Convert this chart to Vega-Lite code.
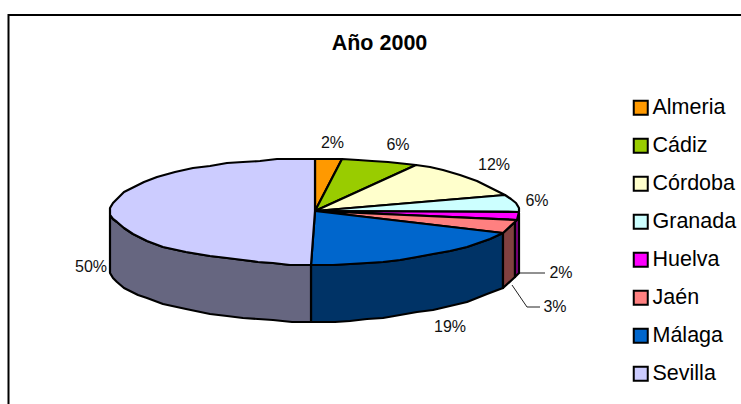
{
"$schema":"https://vega.github.io/schema/vega-lite/v6.json",
"width":741,"height":404,"autosize":"none","padding":0,"background":"white",
"title":{"text":"Año 2000","font":"Liberation Sans","fontSize":21.5,"fontWeight":"bold","color":"black","anchor":"middle","dx":9,"offset":-71,"baseline":"alphabetic"},
"config":{"view":{"stroke":null}},
"datasets":{
"top":[
{"p":"Almeria","i":0,"x":315,"y":211},{"p":"Almeria","i":1,"x":315,"y":159},{"p":"Almeria","i":2,"x":342,"y":159},{"p":"Almeria","i":3,"x":315,"y":211},
{"p":"Cádiz","i":0,"x":315,"y":211},{"p":"Cádiz","i":1,"x":342,"y":159},{"p":"Cádiz","i":2,"x":358,"y":160},{"p":"Cádiz","i":3,"x":372,"y":161},{"p":"Cádiz","i":4,"x":388,"y":162},{"p":"Cádiz","i":5,"x":416,"y":165},{"p":"Cádiz","i":6,"x":315,"y":211},
{"p":"Córdoba","i":0,"x":315,"y":211},{"p":"Córdoba","i":1,"x":416,"y":165},{"p":"Córdoba","i":2,"x":430,"y":167},{"p":"Córdoba","i":3,"x":443,"y":170},{"p":"Córdoba","i":4,"x":460,"y":175},{"p":"Córdoba","i":5,"x":477,"y":181},{"p":"Córdoba","i":6,"x":493,"y":189},{"p":"Córdoba","i":7,"x":505,"y":195},{"p":"Córdoba","i":8,"x":315,"y":211},
{"p":"Granada","i":0,"x":315,"y":211},{"p":"Granada","i":1,"x":505,"y":195},{"p":"Granada","i":2,"x":511,"y":199},{"p":"Granada","i":3,"x":516,"y":203},{"p":"Granada","i":4,"x":519,"y":208},{"p":"Granada","i":5,"x":519,"y":212},{"p":"Granada","i":6,"x":315,"y":211},
{"p":"Huelva","i":0,"x":315,"y":211},{"p":"Huelva","i":1,"x":519,"y":212},{"p":"Huelva","i":2,"x":517,"y":220},{"p":"Huelva","i":3,"x":315,"y":211},
{"p":"Jaén","i":0,"x":315,"y":211},{"p":"Jaén","i":1,"x":517,"y":220},{"p":"Jaén","i":2,"x":503,"y":233},{"p":"Jaén","i":3,"x":315,"y":211},
{"p":"Málaga","i":0,"x":315,"y":211},{"p":"Málaga","i":1,"x":503,"y":233},{"p":"Málaga","i":2,"x":490,"y":239},{"p":"Málaga","i":3,"x":467,"y":247},{"p":"Málaga","i":4,"x":450,"y":251},{"p":"Málaga","i":5,"x":433,"y":254},{"p":"Málaga","i":6,"x":417,"y":257},{"p":"Málaga","i":7,"x":400,"y":260},{"p":"Málaga","i":8,"x":383,"y":262},{"p":"Málaga","i":9,"x":367,"y":263},{"p":"Málaga","i":10,"x":350,"y":264},{"p":"Málaga","i":11,"x":333,"y":265},{"p":"Málaga","i":12,"x":311,"y":265},{"p":"Málaga","i":13,"x":315,"y":211},
{"p":"Sevilla","i":0,"x":315,"y":211},{"p":"Sevilla","i":1,"x":311,"y":265},{"p":"Sevilla","i":2,"x":290,"y":265},{"p":"Sevilla","i":3,"x":273,"y":263},{"p":"Sevilla","i":4,"x":258,"y":262},{"p":"Sevilla","i":5,"x":243,"y":260},{"p":"Sevilla","i":6,"x":227,"y":258},{"p":"Sevilla","i":7,"x":210,"y":256},{"p":"Sevilla","i":8,"x":186,"y":252},{"p":"Sevilla","i":9,"x":163,"y":247},{"p":"Sevilla","i":10,"x":147,"y":241},{"p":"Sevilla","i":11,"x":133,"y":234},{"p":"Sevilla","i":12,"x":124,"y":228},{"p":"Sevilla","i":13,"x":117,"y":222},{"p":"Sevilla","i":14,"x":113,"y":219},{"p":"Sevilla","i":15,"x":110,"y":215},{"p":"Sevilla","i":16,"x":110,"y":208},{"p":"Sevilla","i":17,"x":113,"y":203},{"p":"Sevilla","i":18,"x":117,"y":199},{"p":"Sevilla","i":19,"x":124,"y":192},{"p":"Sevilla","i":20,"x":132,"y":188},{"p":"Sevilla","i":21,"x":144,"y":182},{"p":"Sevilla","i":22,"x":157,"y":177},{"p":"Sevilla","i":23,"x":175,"y":172},{"p":"Sevilla","i":24,"x":193,"y":168},{"p":"Sevilla","i":25,"x":210,"y":166},{"p":"Sevilla","i":26,"x":227,"y":163},{"p":"Sevilla","i":27,"x":243,"y":162},{"p":"Sevilla","i":28,"x":260,"y":161},{"p":"Sevilla","i":29,"x":277,"y":159},{"p":"Sevilla","i":30,"x":315,"y":159},{"p":"Sevilla","i":31,"x":315,"y":211}
],
"wall":[
{"p":"Málaga","i":0,"x":503,"y":233},{"p":"Málaga","i":1,"x":490,"y":239},{"p":"Málaga","i":2,"x":467,"y":247},{"p":"Málaga","i":3,"x":450,"y":251},{"p":"Málaga","i":4,"x":433,"y":254},{"p":"Málaga","i":5,"x":417,"y":257},{"p":"Málaga","i":6,"x":400,"y":260},{"p":"Málaga","i":7,"x":383,"y":262},{"p":"Málaga","i":8,"x":367,"y":263},{"p":"Málaga","i":9,"x":350,"y":264},{"p":"Málaga","i":10,"x":333,"y":265},{"p":"Málaga","i":11,"x":311,"y":265},{"p":"Málaga","i":12,"x":311,"y":322},{"p":"Málaga","i":13,"x":335,"y":322},{"p":"Málaga","i":14,"x":350,"y":321},{"p":"Málaga","i":15,"x":367,"y":319},{"p":"Málaga","i":16,"x":383,"y":318},{"p":"Málaga","i":17,"x":400,"y":315},{"p":"Málaga","i":18,"x":417,"y":312},{"p":"Málaga","i":19,"x":433,"y":310},{"p":"Málaga","i":20,"x":450,"y":306},{"p":"Málaga","i":21,"x":467,"y":302},{"p":"Málaga","i":22,"x":487,"y":294},{"p":"Málaga","i":23,"x":503,"y":288},{"p":"Málaga","i":24,"x":503,"y":233},
{"p":"Sevilla","i":0,"x":311,"y":265},{"p":"Sevilla","i":1,"x":290,"y":265},{"p":"Sevilla","i":2,"x":273,"y":263},{"p":"Sevilla","i":3,"x":258,"y":262},{"p":"Sevilla","i":4,"x":243,"y":260},{"p":"Sevilla","i":5,"x":227,"y":258},{"p":"Sevilla","i":6,"x":210,"y":256},{"p":"Sevilla","i":7,"x":186,"y":252},{"p":"Sevilla","i":8,"x":163,"y":247},{"p":"Sevilla","i":9,"x":147,"y":241},{"p":"Sevilla","i":10,"x":133,"y":234},{"p":"Sevilla","i":11,"x":124,"y":228},{"p":"Sevilla","i":12,"x":117,"y":222},{"p":"Sevilla","i":13,"x":113,"y":219},{"p":"Sevilla","i":14,"x":110,"y":215},{"p":"Sevilla","i":15,"x":110,"y":273},{"p":"Sevilla","i":16,"x":113,"y":278},{"p":"Sevilla","i":17,"x":117,"y":282},{"p":"Sevilla","i":18,"x":124,"y":288},{"p":"Sevilla","i":19,"x":138,"y":295},{"p":"Sevilla","i":20,"x":147,"y":298},{"p":"Sevilla","i":21,"x":163,"y":304},{"p":"Sevilla","i":22,"x":186,"y":309},{"p":"Sevilla","i":23,"x":210,"y":314},{"p":"Sevilla","i":24,"x":227,"y":316},{"p":"Sevilla","i":25,"x":243,"y":318},{"p":"Sevilla","i":26,"x":258,"y":319},{"p":"Sevilla","i":27,"x":273,"y":320},{"p":"Sevilla","i":28,"x":292,"y":322},{"p":"Sevilla","i":29,"x":311,"y":322},{"p":"Sevilla","i":30,"x":311,"y":265},
{"p":"Jaén","i":0,"x":503,"y":233},{"p":"Jaén","i":1,"x":515,"y":222},{"p":"Jaén","i":2,"x":515,"y":277},{"p":"Jaén","i":3,"x":503,"y":288},{"p":"Jaén","i":4,"x":503,"y":233},
{"p":"Huelva","i":0,"x":515,"y":222},{"p":"Huelva","i":1,"x":519,"y":213},{"p":"Huelva","i":2,"x":519,"y":273},{"p":"Huelva","i":3,"x":515,"y":277},{"p":"Huelva","i":4,"x":515,"y":222}
],
"lines":[
{"k":"frame","i":0,"x":8.5,"y":404},{"k":"frame","i":1,"x":8.5,"y":15},{"k":"frame","i":2,"x":741,"y":15}
],
"leaders":[
{"k":"a","i":0,"x":518,"y":273},{"k":"a","i":1,"x":545,"y":273},
{"k":"b","i":0,"x":512,"y":285},{"k":"b","i":1,"x":527,"y":307},{"k":"b","i":2,"x":540,"y":307}
],
"labels":[
{"t":"2%","x":332.5,"y":143},{"t":"6%","x":398,"y":145},{"t":"12%","x":494,"y":165},{"t":"6%","x":537,"y":201},{"t":"2%","x":561,"y":273},{"t":"3%","x":555,"y":307},{"t":"19%","x":450,"y":327},{"t":"50%","x":91,"y":267}
]
},
"encoding":{
"x":{"field":"x","type":"quantitative","scale":{"domain":[0,741],"nice":false,"zero":false},"axis":null},
"y":{"field":"y","type":"quantitative","scale":{"domain":[404,0],"nice":false,"zero":false},"axis":null}
},
"layer":[
{"data":{"name":"lines"},"mark":{"type":"line","stroke":"black","strokeWidth":2,"clip":false},"encoding":{"detail":{"field":"k"},"order":{"field":"i"}}},
{"data":{"name":"leaders"},"mark":{"type":"line","stroke":"#222","strokeWidth":1},"encoding":{"detail":{"field":"k"},"order":{"field":"i"}}},
{"data":{"name":"wall"},"mark":{"type":"line","stroke":"black","strokeWidth":2.2,"strokeJoin":"round"},"encoding":{"order":{"field":"i"},"detail":{"field":"p"},
 "fill":{"field":"p","type":"nominal","legend":null,"scale":{"domain":["Huelva","Jaén","Málaga","Sevilla"],"range":["#800080","#804040","#003366","#666680"]}}}},
{"data":{"name":"top"},"mark":{"type":"line","stroke":"black","strokeWidth":2.2,"strokeJoin":"round"},"encoding":{"order":{"field":"i"},"detail":{"field":"p"},
 "fill":{"field":"p","type":"nominal","sort":null,"scale":{"domain":["Almeria","Cádiz","Córdoba","Granada","Huelva","Jaén","Málaga","Sevilla"],"range":["#FF9900","#99CC00","#FFFFCC","#CCFFFF","#FF00FF","#FF8080","#0066CC","#CCCCFF"]},
 "legend":{"title":null,"orient":"none","legendX":630,"legendY":97,"symbolType":"square","symbolSize":196,"symbolStrokeColor":"black","symbolStrokeWidth":2,"labelFont":"Liberation Sans","labelFontSize":21.5,"labelColor":"black","labelOffset":1,"rowPadding":15,"padding":0,"labelLimit":120}}}},
{"data":{"name":"labels"},"mark":{"type":"text","font":"Liberation Sans","fontSize":16,"color":"#111","align":"center","baseline":"middle"},"encoding":{"text":{"field":"t"}}}
],
"resolve":{"scale":{"fill":"independent"}}
}
